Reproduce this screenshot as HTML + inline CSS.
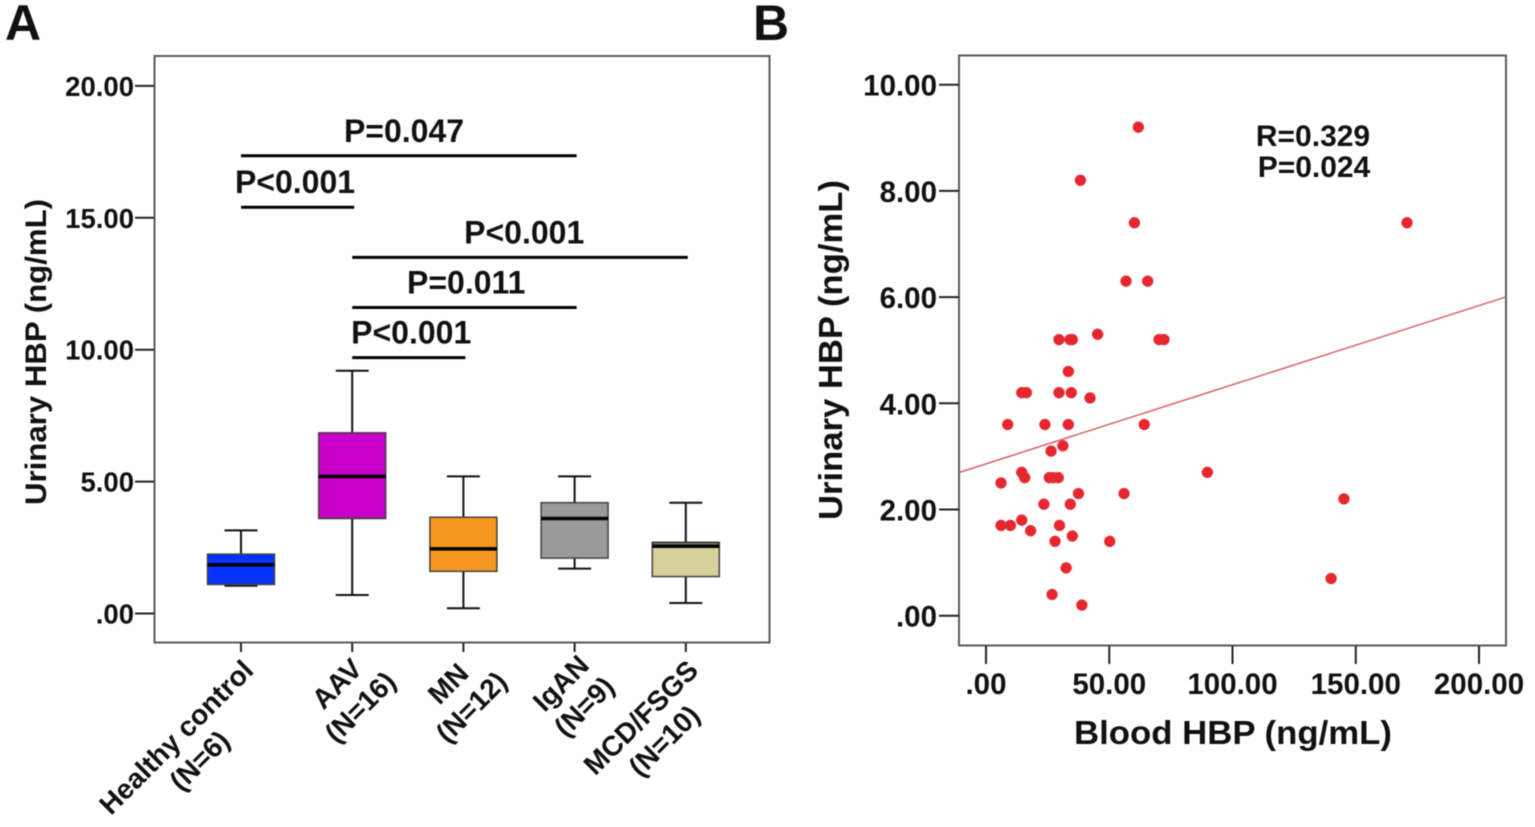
<!DOCTYPE html>
<html lang="en">
<head>
<meta charset="utf-8">
<title>Urinary HBP charts</title>
<style>
html,body{margin:0;padding:0;background:#fff;width:1535px;height:827px;overflow:hidden}
svg{display:block;filter:blur(0.4px)}
text{font-family:"Liberation Sans",Arial,sans-serif;font-weight:bold;fill:#111}
</style>
</head>
<body>
<svg id="fig" xmlns="http://www.w3.org/2000/svg" width="1535" height="827" viewBox="0 0 1535 827">
  <rect x="0" y="0" width="1535" height="827" fill="#fff"/>
  <text x="5" y="40" font-size="50">A</text>
  <text x="753" y="40" font-size="50">B</text>
  <rect x="154.5" y="56" width="615" height="586.5" fill="none" stroke="#5a5a5a" stroke-width="2"/>
  <rect x="959" y="55.5" width="547" height="590" fill="none" stroke="#5a5a5a" stroke-width="2"/>
  <text transform="translate(46,352) rotate(-90)" text-anchor="middle" font-size="30" textLength="306" lengthAdjust="spacingAndGlyphs">Urinary HBP (ng/mL)</text>
  <text transform="translate(842,350) rotate(-90)" text-anchor="middle" font-size="33" textLength="340" lengthAdjust="spacingAndGlyphs">Urinary HBP (ng/mL)</text>
  <text x="1233" y="744" text-anchor="middle" font-size="33" textLength="318" lengthAdjust="spacingAndGlyphs">Blood HBP (ng/mL)</text>
  <text x="1313" y="146" text-anchor="middle" font-size="30">R=0.329</text>
  <text x="1314" y="177" text-anchor="middle" font-size="30">P=0.024</text>
  <g id="a"></g>
  <g id="b"></g>
</svg>
<script>
// Panel A data
const groups = ['Healthy control', 'AAV', 'MN', 'IgAN', 'MCD/FSGS'];
const groupNs = ['(N=6)', '(N=16)', '(N=12)', '(N=9)', '(N=10)'];
const whiskerLow = [1.05, 0.7, 0.2, 1.7, 0.4];
const quartile1 = [1.1, 3.6, 1.6, 2.1, 1.4];
const medians = [1.85, 5.2, 2.45, 3.6, 2.55];
const quartile3 = [2.25, 6.85, 3.65, 4.2, 2.7];
const whiskerHigh = [3.15, 9.2, 5.2, 5.2, 4.2];
const boxColors = ['#0433ff', '#c800c8', '#f7981e', '#9a9a9a', '#d6d09a'];
const yTicksA = [0, 5, 10, 15, 20];
const yTickLabelsA = ['.00', '5.00', '10.00', '15.00', '20.00'];
const sigLabels = ['P=0.047', 'P<0.001', 'P<0.001', 'P=0.011', 'P<0.001'];
const sigFrom = [0, 0, 1, 1, 1];
const sigTo = [3, 1, 4, 3, 2];
const sigLevels = [17.35, 15.4, 13.5, 11.6, 9.7];

// Panel B data
const bloodHBP = [61.8,38.3,60.2,170.8,56.8,65.6,29.6,34.1,35,45.3,70.2,72.2,33.4,14.5,16.4,29.6,34.6,42.2,8.8,23.9,33.4,64.2,31.2,26.4,14.5,15.7,25.7,27.3,29.3,6.1,89.8,37.5,56,23.5,34.2,145.2,6.1,9.9,14.5,29.8,18.1,35,28,50.2,32.5,140,26.8,38.9];
const urinaryHBP = [9.2,8.2,7.4,7.4,6.3,6.3,5.2,5.2,5.2,5.3,5.2,5.2,4.6,4.2,4.2,4.2,4.2,4.1,3.6,3.6,3.6,3.6,3.2,3.1,2.7,2.6,2.6,2.6,2.6,2.5,2.7,2.3,2.3,2.1,2.1,2.2,1.7,1.7,1.8,1.7,1.6,1.5,1.4,1.4,0.9,0.7,0.4,0.2];
const yTicksB = [0, 2, 4, 6, 8, 10];
const yTickLabelsB = ['.00', '2.00', '4.00', '6.00', '8.00', '10.00'];
const xTicksB = [0, 50, 100, 150, 200];
const xTickLabelsB = ['.00', '50.00', '100.00', '150.00', '200.00'];
const trendIntercept = 2.86;
const trendSlope = 0.0149;

// Axis functions
const NS = 'http://www.w3.org/2000/svg';
const yA = v => 613.5 - v * 26.38;
const xA = i => 241 + i * 111.2;
const yB = v => 615.7 - v * 53.1;
const xB = v => 986 + v * 2.465;

function mk(parent, tag, attrs, txt) {
  const el = document.createElementNS(NS, tag);
  for (const k in attrs) el.setAttribute(k, attrs[k]);
  if (txt !== undefined) el.textContent = txt;
  parent.appendChild(el);
  return el;
}
function seg(parent, x1, y1, x2, y2, sw, col) {
  return mk(parent, 'line', {x1, y1, x2, y2, stroke: col || '#111', 'stroke-width': sw});
}

const a = document.getElementById('a');
const b = document.getElementById('b');

// Panel A y axis
yTicksA.forEach((v, i) => {
  const t = seg(a, 135, yA(v), 154, yA(v), 2, '#222');
  
  
  const l = mk(a, 'text', {x: 134, y: yA(v) + 10, 'text-anchor': 'end', 'font-size': 27.5}, yTickLabelsA[i]);
  
  
});

// Panel A boxes
groups.forEach((g, i) => {
  const cx = xA(i), hw = 33.5, cap = 16.5;
  const tick = seg(a, cx, 643, cx, 652, 2, '#222');
  
  

  const whisk = seg(a, cx, yA(whiskerLow[i]), cx, yA(whiskerHigh[i]), 2);
  
  
  const capLow = seg(a, cx - cap, yA(whiskerLow[i]), cx + cap, yA(whiskerLow[i]), 2);
  
  
  const capHigh = seg(a, cx - cap, yA(whiskerHigh[i]), cx + cap, yA(whiskerHigh[i]), 2);
  
  

  const box = mk(a, 'rect', {x: cx - hw, y: yA(quartile3[i]), width: hw * 2, height: yA(quartile1[i]) - yA(quartile3[i]), fill: boxColors[i], stroke: '#444', 'stroke-width': 1.5});
  
  

  if (quartile3[i] - medians[i] < 0.3) {
    const shade = mk(a, 'rect', {x: cx - hw, y: yA(quartile3[i]), width: hw * 2, height: yA(medians[i]) - yA(quartile3[i]), fill: '#000', opacity: 0.4});
    
    
  }
  const med = seg(a, cx - hw, yA(medians[i]), cx + hw, yA(medians[i]), 3.5, '#000');
  
  

  // Rotated two-line category label, centred lines in a block
  const lab = mk(a, 'g', {});
  
  
  const t1 = mk(lab, 'text', {'text-anchor': 'middle', 'font-size': 28, y: 0}, g);
  const t2 = mk(lab, 'text', {'text-anchor': 'middle', 'font-size': 28, y: 33}, groupNs[i]);
  
  
  
  
  const w1 = t1.getComputedTextLength(), w2 = t2.getComputedTextLength();
  const W = Math.max(w1, w2);
  t1.setAttribute('x', -W / 2);
  t2.setAttribute('x', -W / 2);
  const diff = w2 - w1;
  const ax = diff <= 0 ? cx + 14 : diff < 25 ? cx + 18 : cx + 22;
  const ay = diff <= 0 ? 672 : diff < 25 ? 665 : 660;
  lab.setAttribute('transform', 'translate(' + ax + ',' + ay + ') rotate(-45)');
});

// Significance brackets
sigLabels.forEach((s, i) => {
  const x1 = xA(sigFrom[i]), x2 = xA(sigTo[i]) + 2, y = yA(sigLevels[i]);
  const bar = seg(a, x1, y, x2, y, 3, '#000');
  
  
  const tx = i === 1 ? x1 + 54 : i === 4 ? x1 + 59 : (i === 0 ? x1 + 163 : i === 2 ? x1 + 172 : x1 + 114);
  const lab = mk(a, 'text', {x: tx, y: y - 14, 'text-anchor': 'middle', 'font-size': 32}, s);
  
  
});

// Panel B axes
yTicksB.forEach((v, i) => {
  const t = seg(b, 939, yB(v), 959, yB(v), 2, '#222');
  
  
  const l = mk(b, 'text', {x: 937, y: yB(v) + 11, 'text-anchor': 'end', 'font-size': 29.5}, yTickLabelsB[i]);
  
  
});
xTicksB.forEach((v, i) => {
  const t = seg(b, xB(v), 646, xB(v), 664, 2, '#222');
  
  
  const l = mk(b, 'text', {x: xB(v), y: 694, 'text-anchor': 'middle', 'font-size': 29.5}, xTickLabelsB[i]);
  
  
});

// Trend line
const xLo = (959 - 986) / 2.465, xHi = (1506 - 986) / 2.465;
const trend = seg(b, xB(xLo), yB(trendIntercept + trendSlope * xLo), xB(xHi), yB(trendIntercept + trendSlope * xHi), 1.5, '#d9606a');



// Scatter points
bloodHBP.forEach((x, i) => {
  const p = mk(b, 'circle', {cx: xB(x), cy: yB(urinaryHBP[i]), r: 5.5, fill: '#e8262e', stroke: '#d8404a', 'stroke-width': 0.5});
  
  
});
</script>
</body>
</html>
